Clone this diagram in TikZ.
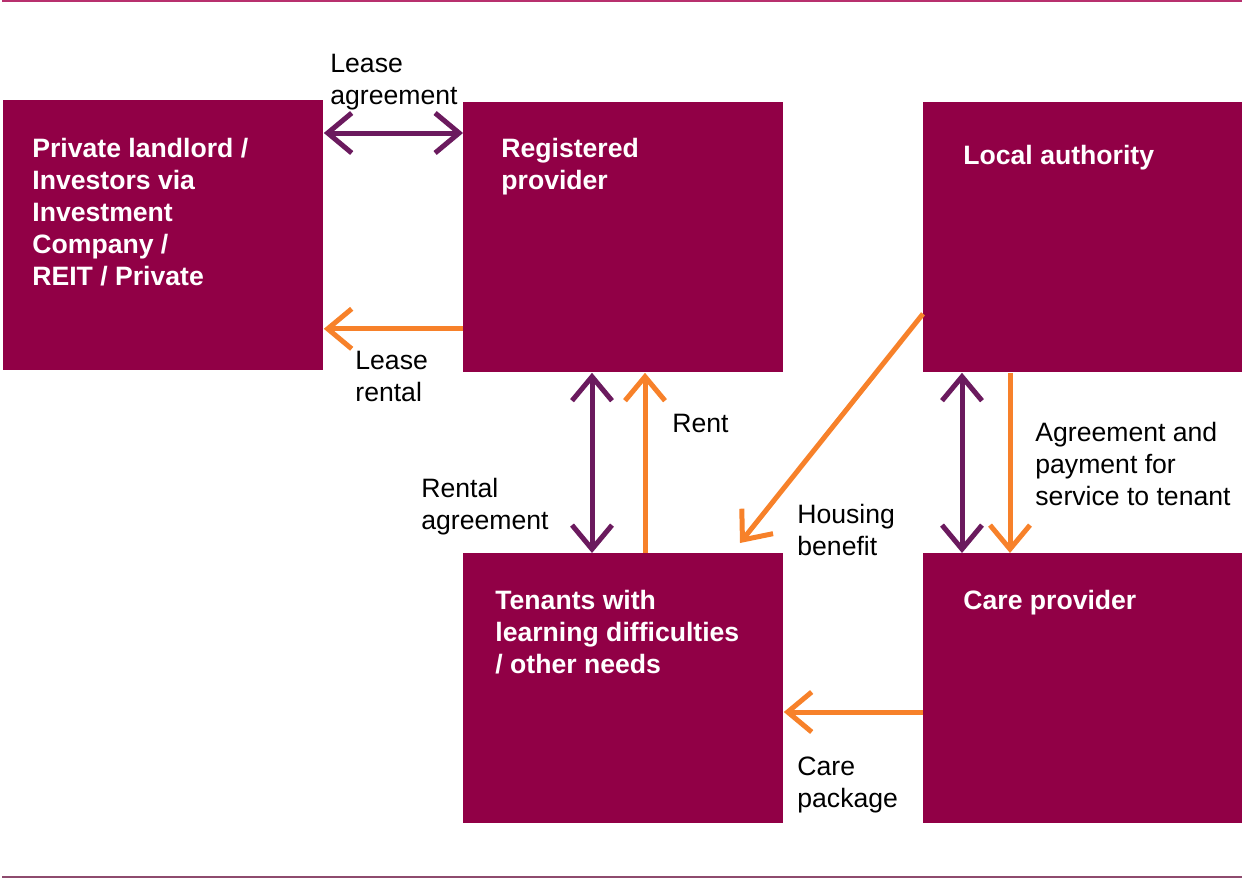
\documentclass[tikz,border=0pt]{standalone}
\usepackage{fontspec}
\setmainfont{Liberation Sans}
\usetikzlibrary{arrows.meta}
\definecolor{boxred}{HTML}{910046}
\definecolor{linkpurple}{HTML}{6B1A5E}
\definecolor{flowOrange}{HTML}{F7812A}
\definecolor{topRule}{HTML}{B8306E}
\definecolor{bottomRule}{HTML}{8E4B6E}
\begin{document}
\begin{tikzpicture}[x=0.5pt,y=-0.5pt,
  chev/.tip={Straight Barb[length=12pt,width=20pt]},
  party/.style={fill=boxred,draw=none,anchor=north west,minimum width=160pt,minimum height=135pt,inner sep=0pt},
  partyname/.style={anchor=north west,inner sep=0pt,align=left,text=white,font=\fontsize{13.3}{16}\selectfont\bfseries},
  flowlabel/.style={anchor=north west,inner sep=0pt,align=left,text=black,font=\fontsize{13.3}{16}\selectfont},
  agreement/.style={draw=linkpurple,line width=2.5pt,{chev}-{chev}},
  payment/.style={draw=flowOrange,line width=2.5pt,-{chev}}]
\useasboundingbox (0,0) rectangle (1242,878);
% rules above and below
\draw[topRule,line width=1.2pt] (2,1) -- (1242,1);
\draw[bottomRule,line width=1pt] (2,876.5) -- (1242,876.5);

% parties
\node[party] (A) at (3,100) {};
\node[party] (B) at (463,102) {};
\node[party] (C) at (923,102) {};
\node[party] (D) at (463,553) {};
\node[party] (E) at (923,553) {};

\node[partyname] (An) at (32,138) {Private landlord /\\Investors via\\Investment\\Company /\\REIT / Private};
\node[partyname] (Bn) at (501,138) {Registered\\provider};
\node[partyname] (Cn) at (963,145) {Local authority};
\node[partyname] (Dn) at (495,590) {Tenants with\\learning difficulties\\/ other needs};
\node[partyname] (En) at (963,590) {Care provider};

% connectors
\draw[agreement] ([yshift=-16.5pt]A.north east) -- ([yshift=-15.5pt]B.north west);
\draw[payment] ([yshift=22pt]B.south west) -- ([yshift=21pt]A.south east);
\draw[agreement] ([xshift=64.5pt]B.south west) -- ([xshift=64.5pt]D.north west);
\draw[payment] ([xshift=91pt]D.north west) -- ([xshift=91pt]B.south west);
\draw[payment] ([yshift=29.5pt]C.south west) -- ([xshift=138.5pt,yshift=5pt]D.north west);
\draw[agreement] ([xshift=19.5pt]C.south west) -- ([xshift=19.5pt]E.north west);
\draw[payment] ([xshift=43.5pt]C.south west) -- ([xshift=43.5pt]E.north west);
\draw[payment] ([yshift=-79.5pt]E.north west) -- ([yshift=-79.5pt]D.north east);

% connector labels
\node[flowlabel] (l1) at (330,54) {Lease\\agreement};
\node[flowlabel] (l2) at (355,351) {Lease\\rental};
\node[flowlabel] (l3) at (672,414) {Rent};
\node[flowlabel] (l4) at (421,478) {Rental\\agreement};
\node[flowlabel] (l5) at (797,504) {Housing\\benefit};
\node[flowlabel] (l6) at (1035,422) {Agreement and\\payment for\\service to tenant};
\node[flowlabel] (l7) at (797,757) {Care\\package};
\end{tikzpicture}
\end{document}
